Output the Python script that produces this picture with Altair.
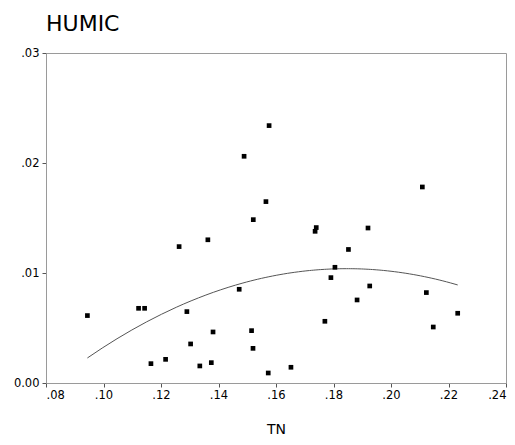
import altair as alt
import pandas as pd

# Values
tn = [0.0944, 0.1122, 0.1143, 0.1263, 0.1363, 0.1290, 0.1381, 0.1303, 0.1165,
      0.1216, 0.1335, 0.1375, 0.1489, 0.1576, 0.1565, 0.1521, 0.1736, 0.1740,
      0.1852, 0.1805, 0.1791, 0.1472, 0.1882, 0.1515, 0.1520, 0.1770, 0.1573,
      0.1652, 0.1920, 0.1926, 0.2123, 0.2232, 0.2147, 0.2109]
humic = [0.00613, 0.00679, 0.00679, 0.01240, 0.01302, 0.00649, 0.00464, 0.00355,
         0.00176, 0.00215, 0.00155, 0.00185, 0.02061, 0.02340, 0.01649, 0.01485,
         0.01379, 0.01413, 0.01214, 0.01052, 0.00958, 0.00852, 0.00755, 0.00476,
         0.00315, 0.00561, 0.00091, 0.00143, 0.01409, 0.00882, 0.00822, 0.00634,
         0.00509, 0.01782]
x_ticks = [0.08, 0.10, 0.12, 0.14, 0.16, 0.18, 0.20, 0.22, 0.24]
y_ticks = [0.00, 0.01, 0.02, 0.03]

df = pd.DataFrame({"TN": tn, "HUMIC": humic})

fmt = "replace(format(datum.value, '.2f'), '0.', '.')"
yfmt = "datum.value == 0 ? '0.00' : " + fmt

font = "DejaVu Sans"
axis_common = dict(grid=False, domainColor="#9a9a9a", tickColor="#555555",
                   tickSize=4, labelFont=font, labelFontSize=11.5,
                   labelColor="black", titleFont=font, titleFontSize=14,
                   titleFontWeight="normal", titleColor="black")

x = alt.X("TN:Q",
          scale=alt.Scale(domain=[0.08, 0.24], nice=False, zero=False),
          axis=alt.Axis(values=x_ticks, labelExpr=fmt, title="TN",
                        labelPadding=2, titlePadding=22, **axis_common))
y = alt.Y("HUMIC:Q",
          scale=alt.Scale(domain=[0.0, 0.03], nice=False),
          axis=alt.Axis(values=y_ticks, labelExpr=yfmt, title=None,
                        labelPadding=3, **axis_common))

points = alt.Chart(df).mark_square(size=22, color="black", opacity=1).encode(x=x, y=y)

fit = alt.Chart(df).transform_regression(
    "TN", "HUMIC", method="poly", order=2
).mark_line(color="#555555", strokeWidth=1).encode(x=x, y=y)

chart = alt.layer(fit, points).properties(
    width=460,
    height=330,
    title=alt.Title("HUMIC", anchor="start", frame="group", fontSize=22,
                    font=font, fontWeight="normal", color="black",
                    offset=0, dy=6, baseline="alphabetic"),
    padding={"left": 38, "top": 45, "right": 1, "bottom": 54},
    autosize=alt.AutoSizeParams(type="none"),
).configure_view(stroke="#9a9a9a", strokeWidth=1)

chart.save("out.html", embed_options={"renderer": "svg", "actions": False})
